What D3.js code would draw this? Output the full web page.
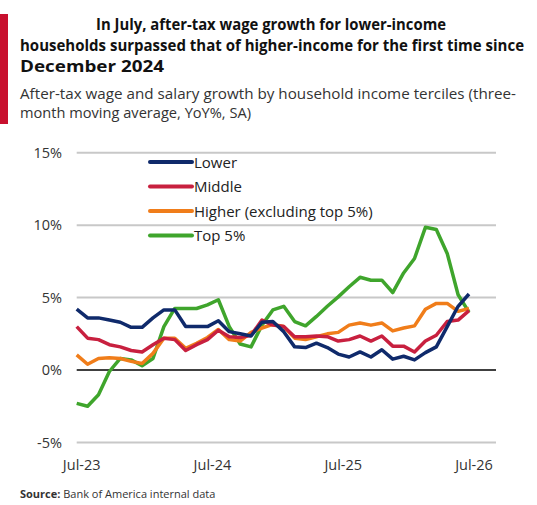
<!DOCTYPE html>
<html><head><meta charset="utf-8">
<script src="https://cdn.jsdelivr.net/npm/d3@7"></script>
<style>body{margin:0;background:#fff;font-family:"Open Sans",sans-serif}</style>
</head><body><svg id="c" width="537" height="505"></svg>
<script>
const lower=[4.2,3.6,3.6,3.45,3.3,2.95,2.95,3.6,4.15,4.15,3.0,3.0,3.0,3.4,2.65,2.5,2.35,3.3,3.35,2.65,1.6,1.55,1.85,1.55,1.1,0.9,1.25,0.9,1.4,0.75,0.95,0.7,1.2,1.6,3.0,4.4,5.25];
const middle=[3.0,2.2,2.1,1.75,1.6,1.35,1.25,1.75,2.2,2.1,1.35,1.75,2.1,2.75,2.3,2.25,2.4,3.45,3.1,3.0,2.3,2.3,2.35,2.3,2.0,2.1,2.35,2.0,2.35,1.65,1.65,1.25,2.0,2.4,3.35,3.45,4.1];
const higher=[1.05,0.4,0.8,0.85,0.8,0.6,0.45,1.15,2.2,2.2,1.5,1.85,2.25,2.8,2.1,2.0,2.6,2.9,3.15,3.0,2.2,2.1,2.3,2.5,2.6,3.1,3.25,3.1,3.25,2.7,2.9,3.05,4.2,4.6,4.6,4.05,4.25];
const top5=[-2.3,-2.5,-1.7,-0.1,0.8,0.7,0.3,0.8,3.0,4.25,4.25,4.25,4.5,4.85,3.0,1.8,1.6,3.1,4.15,4.4,3.35,3.05,3.7,4.4,5.05,5.75,6.4,6.2,6.2,5.35,6.7,7.7,9.85,9.7,8.05,5.2,4.0];
const yTicks=[-5,0,5,10,15];
const xTickIdx=[0,12,24,36];
const xTickLabels=["Jul-23","Jul-24","Jul-25","Jul-26"];
const series=[{name:"Lower",v:lower,c:"#0f2a6b"},{name:"Middle",v:middle,c:"#c8203f"},{name:"Higher (excluding top 5%)",v:higher,c:"#f07d1a"},{name:"Top 5%",v:top5,c:"#3fa52c"}];
const svg=d3.select("#c");
svg.append("rect").attr("x",0).attr("y",14).attr("width",8).attr("height",110).attr("fill","#c8102e");
const tl=[["In July, after-tax wage growth for lower-income",96,350],["households surpassed that of higher-income for the first time since",20,504],["December 2024",20,144]];
tl.forEach((t,i)=>svg.append("text").attr("x",t[1]).attr("y",30+i*21).attr("font-weight","bold").attr("font-size",15.5).attr("fill","#111").attr("textLength",t[2]).attr("lengthAdjust","spacingAndGlyphs").text(t[0]));
[["After-tax wage and salary growth by household income terciles (three-",496],["month moving average, YoY%, SA)",231]].forEach((t,i)=>svg.append("text").attr("x",20).attr("y",99+i*19).attr("font-size",14.5).attr("fill","#333").attr("textLength",t[1]).attr("lengthAdjust","spacingAndGlyphs").text(t[0]));
const x=d3.scaleLinear().domain([0,36]).range([76.7,469]);
const y=d3.scaleLinear().domain([-5,15]).range([442.5,152.7]);
const xl=76.7,xr=496;
yTicks.forEach(t=>{svg.append("line").attr("x1",xl).attr("x2",xr).attr("y1",y(t)).attr("y2",y(t)).attr("stroke",t==0?"#000":"#c8c8c8").attr("stroke-width",t==0?1.5:2);
svg.append("text").attr("x",62).attr("y",y(t)+5).attr("text-anchor","end").attr("font-size",14.5).attr("fill","#333").text(t+"%");});
xTickIdx.forEach((d,i)=>svg.append("text").attr("x",x(d)+5).attr("y",470).attr("text-anchor","middle").attr("font-size",14.5).attr("fill","#333").text(xTickLabels[i]));
const line=d3.line().x((d,i)=>x(i)).y(d=>y(d));
[3,2,1,0].forEach(k=>{const s=series[k];svg.append("path").attr("d",line(s.v)).attr("fill","none").attr("stroke",s.c).attr("stroke-width",3.5).attr("stroke-linejoin","round");});
series.forEach((s,i)=>{const yy=162+i*24.5;svg.append("line").attr("x1",150).attr("x2",192).attr("y1",yy).attr("y2",yy).attr("stroke",s.c).attr("stroke-width",4).attr("stroke-linecap","round");
svg.append("text").attr("x",194).attr("y",yy+5.5).attr("font-size",15).attr("fill","#222").text(s.name);});
const src=svg.append("text").attr("x",20).attr("y",498).attr("font-size",11).attr("fill","#333");
src.append("tspan").attr("font-weight","bold").text("Source: ");src.append("tspan").text("Bank of America internal data");
</script></body></html>
